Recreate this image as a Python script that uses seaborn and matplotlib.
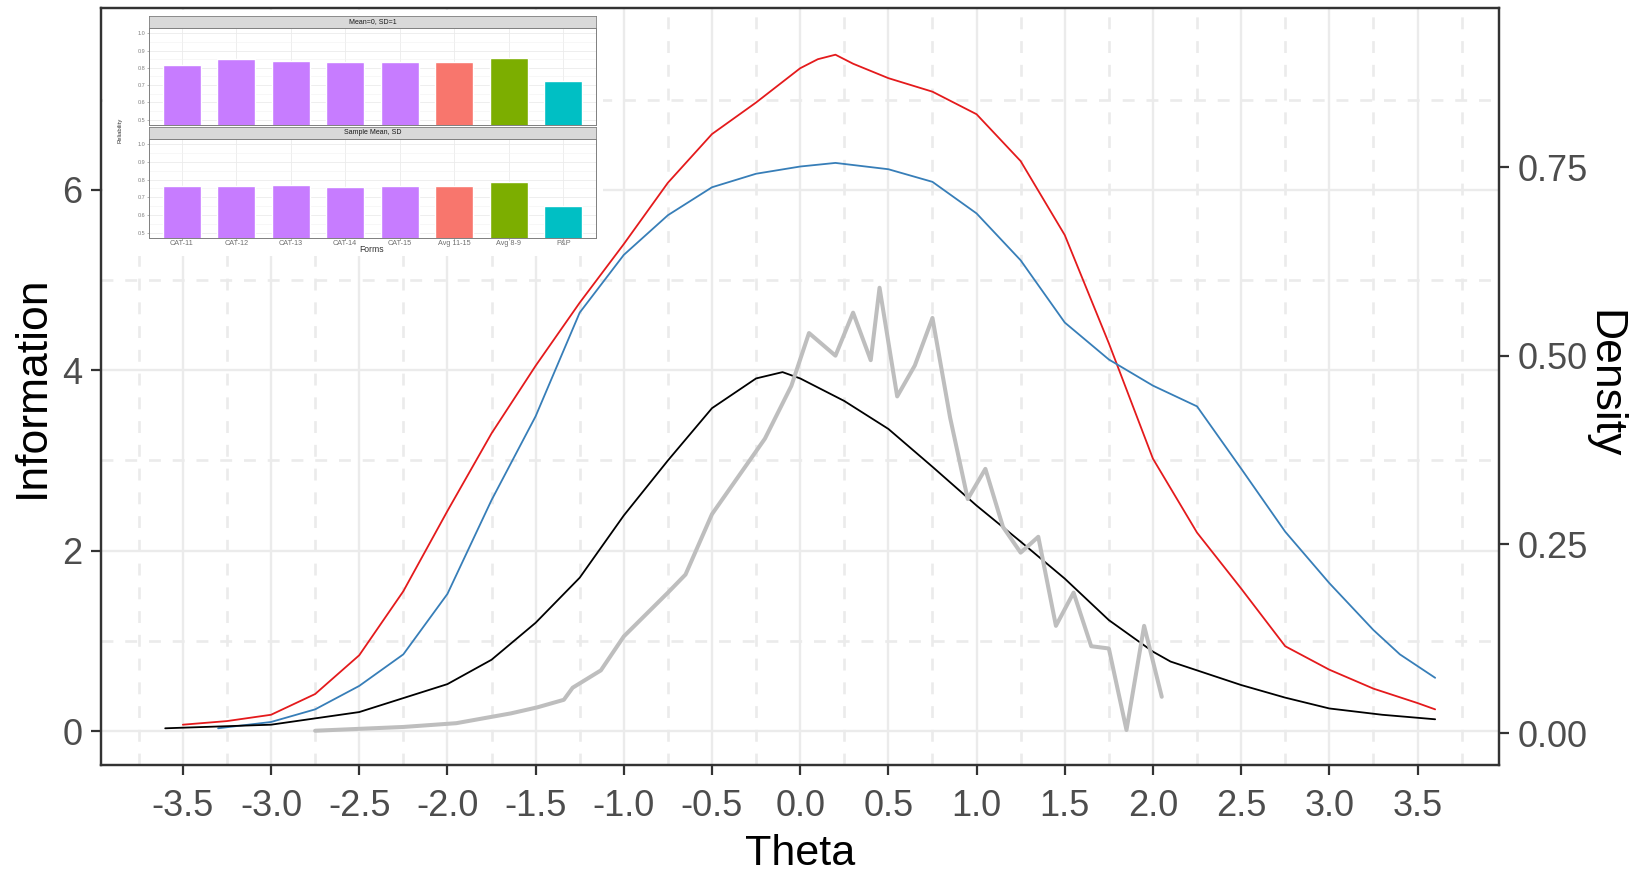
import numpy as np
import pandas as pd
import matplotlib
matplotlib.use("Agg")
import matplotlib.pyplot as plt
import seaborn as sns
from matplotlib.ticker import FixedLocator

sns.set_theme(style="white")
plt.rcParams['font.family'] = ['Liberation Sans', 'DejaVu Sans']
plt.rcParams['axes.unicode_minus'] = False

# ---------------- data ----------------
red_theta = [-3.5, -3.25, -3.0, -2.75, -2.5, -2.25, -2.0, -1.75, -1.5, -1.25, -1.0, -0.75, -0.5,
             -0.25, 0.0, 0.1, 0.2, 0.3, 0.5, 0.75, 1.0, 1.25, 1.5, 1.75, 2.0, 2.25, 2.5, 2.75,
             3.0, 3.25, 3.5, 3.6]
red_info = [0.07, 0.11, 0.18, 0.41, 0.84, 1.55, 2.44, 3.3, 4.05, 4.75, 5.4, 6.08, 6.62,
            6.97, 7.35, 7.45, 7.5, 7.4, 7.24, 7.09, 6.84, 6.32, 5.5, 4.3, 3.02, 2.2, 1.58, 0.94,
            0.68, 0.47, 0.31, 0.24]

blue_theta = [-3.3, -3.0, -2.75, -2.5, -2.25, -2.0, -1.75, -1.5, -1.25, -1.0, -0.75, -0.5,
              -0.25, 0.0, 0.2, 0.5, 0.75, 1.0, 1.25, 1.5, 1.75, 2.0, 2.25, 2.5, 2.75, 3.0,
              3.25, 3.4, 3.6]
blue_info = [0.03, 0.1, 0.24, 0.5, 0.85, 1.52, 2.56, 3.49, 4.64, 5.28, 5.72, 6.03,
             6.18, 6.26, 6.3, 6.23, 6.09, 5.74, 5.22, 4.53, 4.12, 3.83, 3.6, 2.91, 2.21, 1.64,
             1.12, 0.85, 0.59]

black_theta = [-3.6, -3.0, -2.5, -2.0, -1.75, -1.5, -1.25, -1.0, -0.75, -0.5, -0.25, -0.1,
               0.0, 0.25, 0.5, 0.75, 1.0, 1.25, 1.5, 1.75, 2.0, 2.1, 2.5, 2.75, 3.0, 3.3, 3.6]
black_info = [0.03, 0.07, 0.21, 0.52, 0.79, 1.2, 1.7, 2.39, 3.0, 3.58, 3.91, 3.98,
              3.91, 3.66, 3.35, 2.93, 2.5, 2.1, 1.69, 1.23, 0.88, 0.77, 0.51, 0.37, 0.25, 0.18, 0.13]

gray_theta = [-2.75, -2.25, -1.95, -1.64, -1.49, -1.34, -1.29, -1.13, -1.0, -0.75, -0.65,
              -0.5, -0.35, -0.2, -0.05, 0.05, 0.2, 0.3, 0.4, 0.45, 0.55, 0.65, 0.75, 0.85,
              0.95, 1.05, 1.15, 1.25, 1.35, 1.45, 1.55, 1.65, 1.75, 1.85, 1.95, 2.05]
gray_density = [0.003, 0.008, 0.013, 0.026, 0.034, 0.044, 0.06, 0.083, 0.128, 0.186, 0.21,
                0.29, 0.34, 0.39, 0.46, 0.53, 0.50, 0.557, 0.494, 0.59, 0.446, 0.487, 0.55, 0.418,
                0.31, 0.35, 0.273, 0.239, 0.26, 0.142, 0.186, 0.115, 0.112, 0.004, 0.142, 0.048]

x_ticks = [-3.5, -3.0, -2.5, -2.0, -1.5, -1.0, -0.5, 0.0, 0.5, 1.0, 1.5, 2.0, 2.5, 3.0, 3.5]
x_minor = [-3.75, -3.25, -2.75, -2.25, -1.75, -1.25, -0.75, -0.25, 0.25, 0.75, 1.25, 1.75,
           2.25, 2.75, 3.25, 3.75]
info_ticks = [0, 2, 4, 6]
info_minor = [1, 3, 5, 7]
density_ticks = [0.0, 0.25, 0.5, 0.75]

forms = ["CAT-11", "CAT-12", "CAT-13", "CAT-14", "CAT-15", "Avg 11-15", "Avg 8-9", "P&P"]
form_group = ["CAT", "CAT", "CAT", "CAT", "CAT", "Avg 11-15", "Avg 8-9", "P&P"]
rel_std = [0.819, 0.850, 0.840, 0.834, 0.834, 0.834, 0.855, 0.724]
rel_sample = [0.762, 0.764, 0.768, 0.756, 0.764, 0.762, 0.787, 0.649]
facet_titles = ["Mean=0, SD=1", "Sample Mean, SD"]
rel_ticks = [0.5, 0.6, 0.7, 0.8, 0.9, 1.0]
group_colors = {"CAT": "#C77CFF", "Avg 11-15": "#F8766D", "Avg 8-9": "#7CAE00", "P&P": "#00BFC4"}

# ---------------- figure ----------------
W, H = 1636, 880
fig = plt.figure(figsize=(W / 100, H / 100), dpi=100)
fig.patch.set_facecolor("white")

def fx(px):
    return px / W

def fy(py):
    return 1 - py / H

L, R, T, B = 101, 1499, 8, 765
ax = fig.add_axes([fx(L), fy(B), fx(R) - fx(L), fy(T) - fy(B)])
ax.set_facecolor("white")

grid_col = "#EBEBEB"
dark = "#333333"
tick_col = "#4D4D4D"

sns.lineplot(x=red_theta, y=red_info, ax=ax, color="#E41A1C", linewidth=1.3, sort=False,
             estimator=None, zorder=3)
sns.lineplot(x=blue_theta, y=blue_info, ax=ax, color="#377EB8", linewidth=1.3, sort=False,
             estimator=None, zorder=3)
sns.lineplot(x=black_theta, y=black_info, ax=ax, color="black", linewidth=1.3, sort=False,
             estimator=None, zorder=3)

ax.set_xlim(-3.964, 3.962)
ax.set_ylim(-0.377, 8.018)
ax.xaxis.set_major_locator(FixedLocator(x_ticks))
ax.xaxis.set_minor_locator(FixedLocator(x_minor))
ax.yaxis.set_major_locator(FixedLocator(info_ticks))
ax.yaxis.set_minor_locator(FixedLocator(info_minor))
ax.set_xticklabels([f"{v:.1f}" for v in x_ticks])
ax.set_yticklabels([str(v) for v in info_ticks])
ax.grid(which="major", color=grid_col, linewidth=1.7, linestyle="-", zorder=0)
ax.grid(which="minor", color=grid_col, linewidth=1.9, linestyle=(0, (4.5, 4.5)), zorder=0)
ax.set_axisbelow(True)
ax.tick_params(which="major", direction="out", length=7, width=1.6, color=dark,
               labelsize=26, labelcolor=tick_col, pad=6.5)
ax.tick_params(axis="x", which="major", pad=10.5)
ax.tick_params(which="minor", length=0)
ax.tick_params(axis="x", bottom=True, top=False)
ax.tick_params(axis="y", left=True, right=False)
for s in ax.spines.values():
    s.set_color(dark)
    s.set_linewidth(1.6)

ax.set_xlabel("Theta", fontsize=31, color="black", va="center")
ax.xaxis.set_label_coords(0.5, -0.117)
ax.set_ylabel("Information", fontsize=32, color="black", va="center")
ax.yaxis.set_label_coords(-0.0494, 0.5)

ax2 = ax.twinx()
sns.lineplot(x=gray_theta, y=gray_density, ax=ax2, color="#BEBEBE", linewidth=2.9, sort=False,
             estimator=None)
ax2.set_ylim(-0.0424, 0.9607)
ax2.yaxis.set_major_locator(FixedLocator(density_ticks))
ax2.set_yticklabels([f"{v:.2f}" for v in density_ticks])
ax2.grid(False)
ax2.tick_params(axis="y", which="major", direction="out", length=7, width=1.6, color=dark,
                labelsize=26, labelcolor=tick_col, pad=6.5, right=True, left=False)
for s in ax2.spines.values():
    s.set_color(dark)
    s.set_linewidth(1.6)
ax2.set_ylabel("Density", fontsize=32, color="black", rotation=270, va="center")
ax2.yaxis.set_label_coords(1.0751, 0.503)

# ---------------- inset (reliability facets) ----------------
bg = fig.add_axes([fx(103), fy(256), fx(603) - fx(103), fy(10) - fy(256)])
bg.set_facecolor("white")
bg.set_xticks([])
bg.set_yticks([])
for s in bg.spines.values():
    s.set_visible(False)

panel_l, panel_r = 149, 596
panels = [(16, 28, 125, rel_std, facet_titles[0], False),
          (127, 139, 238, rel_sample, facet_titles[1], True)]
df_base = pd.DataFrame({"form": forms, "group": form_group})
for strip_top, strip_bot, pan_bot, vals, title, show_x in panels:
    st = fig.add_axes([fx(panel_l), fy(strip_bot), fx(panel_r) - fx(panel_l),
                       fy(strip_top) - fy(strip_bot)])
    st.set_facecolor("#D9D9D9")
    st.set_xticks([])
    st.set_yticks([])
    for s in st.spines.values():
        s.set_color("#7F7F7F")
        s.set_linewidth(0.6)
    st.text(0.5, 0.5, title, ha="center", va="center", fontsize=5.0, color="#1A1A1A",
            transform=st.transAxes)

    pa = fig.add_axes([fx(panel_l), fy(pan_bot), fx(panel_r) - fx(panel_l),
                       fy(strip_bot) - fy(pan_bot)])
    pa.set_facecolor("white")
    d = df_base.copy()
    d["rel"] = vals
    sns.barplot(data=d, x="form", y="rel", hue="group", palette=group_colors, ax=pa,
                width=0.7, saturation=1, legend=False, dodge=False, zorder=2)
    pa.set_xlim(-0.6, 7.6)
    pa.set_ylim(0.47, 1.03)
    pa.yaxis.set_major_locator(FixedLocator(rel_ticks))
    pa.yaxis.set_minor_locator(FixedLocator([0.55, 0.65, 0.75, 0.85, 0.95]))
    pa.set_yticklabels([f"{v:.1f}" for v in rel_ticks])
    pa.grid(which="major", color="#EBEBEB", linewidth=0.6, zorder=0)
    pa.grid(which="minor", axis="y", color="#F2F2F2", linewidth=0.4, zorder=0)
    pa.set_axisbelow(True)
    pa.tick_params(axis="y", which="major", length=1.5, width=0.4, color="#7F7F7F",
                   labelsize=4.0, labelcolor="#7F7F7F", pad=1, left=True)
    pa.tick_params(which="minor", length=0)
    pa.set_xlabel("")
    pa.set_ylabel("")
    if show_x:
        pa.tick_params(axis="x", length=1.2, width=0.4, color="#7F7F7F", labelsize=5.2,
                       labelcolor="#6F6F6F", pad=0.5, bottom=True)
    else:
        pa.tick_params(axis="x", labelbottom=False, length=0)
    for s in pa.spines.values():
        s.set_color("#7F7F7F")
        s.set_linewidth(0.7)

fig.text(fx(372), fy(249), "Forms", ha="center", va="center", fontsize=6.2, color="#333333")
fig.text(fx(120), fy(130), "Reliability", ha="center", va="center", fontsize=4.2,
         color="#333333", rotation=90)

fig.savefig("out.png", dpi=100, facecolor="white")
